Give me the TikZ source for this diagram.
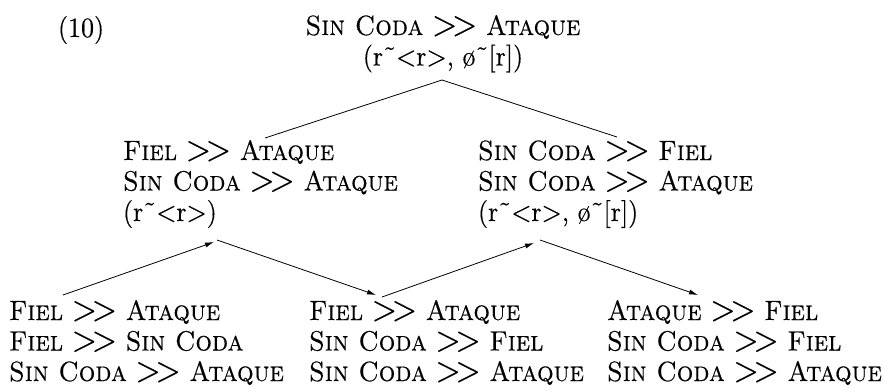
\documentclass[tikz,border=0pt]{standalone}
\usepackage{fontspec}
\setmainfont{lmroman10-regular.otf}[SmallCapsFont=lmromancaps10-regular.otf, FakeBold=0.35, FakeStretch=0.93]
\usetikzlibrary{arrows.meta}
\makeatletter
\newcommand\gtgt{{\fontsize{\fpeval{1.25*\f@size}}{\f@baselineskip}\selectfont>\kern-0.15em>}}
\makeatother
\newcommand\tld{\symbol{"02DC}}
\newlength\refw
\settowidth\refw{\fontsize{10pt}{12pt}\selectfont\textsc{Sin Coda} \gtgt{} \textsc{Ataque}}
\pgfmathsetmacro\fsz{10*275/\refw}
\tikzset{
  lab/.style={font=\fontsize{\fsz pt}{30.5pt}\selectfont, inner sep=0pt, outer sep=0pt},
  conn/.style={line width=0.8pt},
  arr/.style={line width=0.8pt, -{Latex[length=9pt,width=5pt]}}
}
\begin{document}
\begin{tikzpicture}[x=1pt,y=-1pt]
\useasboundingbox (0,0) rectangle (883,391);
\node[lab, anchor=base west] (num) at (58,37) {(10)};
\node[lab, anchor=base] (top) at (443,35) {\begin{tabular}[t]{@{}c@{}}
\textsc{Sin Coda} \gtgt{} \textsc{Ataque}\\
(r\tld<r>, ø\tld[r])\end{tabular}};
\node[lab, anchor=base west] (ml) at (123,160) {\begin{tabular}[t]{@{}l@{}}
\textsc{Fiel} \gtgt{} \textsc{Ataque}\\
\textsc{Sin Coda} \gtgt{} \textsc{Ataque}\\
(r\tld<r>)\end{tabular}};
\node[lab, anchor=base west] (mr) at (478,160) {\begin{tabular}[t]{@{}l@{}}
\textsc{Sin Coda} \gtgt{} \textsc{Fiel}\\
\textsc{Sin Coda} \gtgt{} \textsc{Ataque}\\
(r\tld<r>, ø\tld[r])\end{tabular}};
\node[lab, anchor=base west] (bl) at (9,320) {\begin{tabular}[t]{@{}l@{}}
\textsc{Fiel} \gtgt{} \textsc{Ataque}\\
\textsc{Fiel} \gtgt{} \textsc{Sin Coda}\\
\textsc{Sin Coda} \gtgt{} \textsc{Ataque}\end{tabular}};
\node[lab, anchor=base west] (bm) at (309,320) {\begin{tabular}[t]{@{}l@{}}
\textsc{Fiel} \gtgt{} \textsc{Ataque}\\
\textsc{Sin Coda} \gtgt{} \textsc{Fiel}\\
\textsc{Sin Coda} \gtgt{} \textsc{Ataque}\end{tabular}};
\node[lab, anchor=base west] (br) at (607,320) {\begin{tabular}[t]{@{}l@{}}
\textsc{Ataque} \gtgt{} \textsc{Fiel}\\
\textsc{Sin Coda} \gtgt{} \textsc{Fiel}\\
\textsc{Sin Coda} \gtgt{} \textsc{Ataque}\end{tabular}};
% connector end points
\coordinate (topout) at (442,80);
\coordinate (mlin) at (265,138);
\coordinate (mrin) at (617,137);
\coordinate (mlunder) at (214,242);
\coordinate (mlout) at (217,240);
\coordinate (blout) at (63,295);
\coordinate (bmin) at (376,295);
\coordinate (bmout) at (382,297);
\coordinate (mrunder) at (534,243);
\coordinate (mrout) at (540,240);
\coordinate (brin) at (698,295);
\draw[conn] (mlin) -- (topout) -- (mrin);
\draw[arr] (blout) -- (mlunder);
\draw[arr] (mlout) -- (bmin);
\draw[arr] (bmout) -- (mrunder);
\draw[arr] (mrout) -- (brin);
\end{tikzpicture}
\end{document}
